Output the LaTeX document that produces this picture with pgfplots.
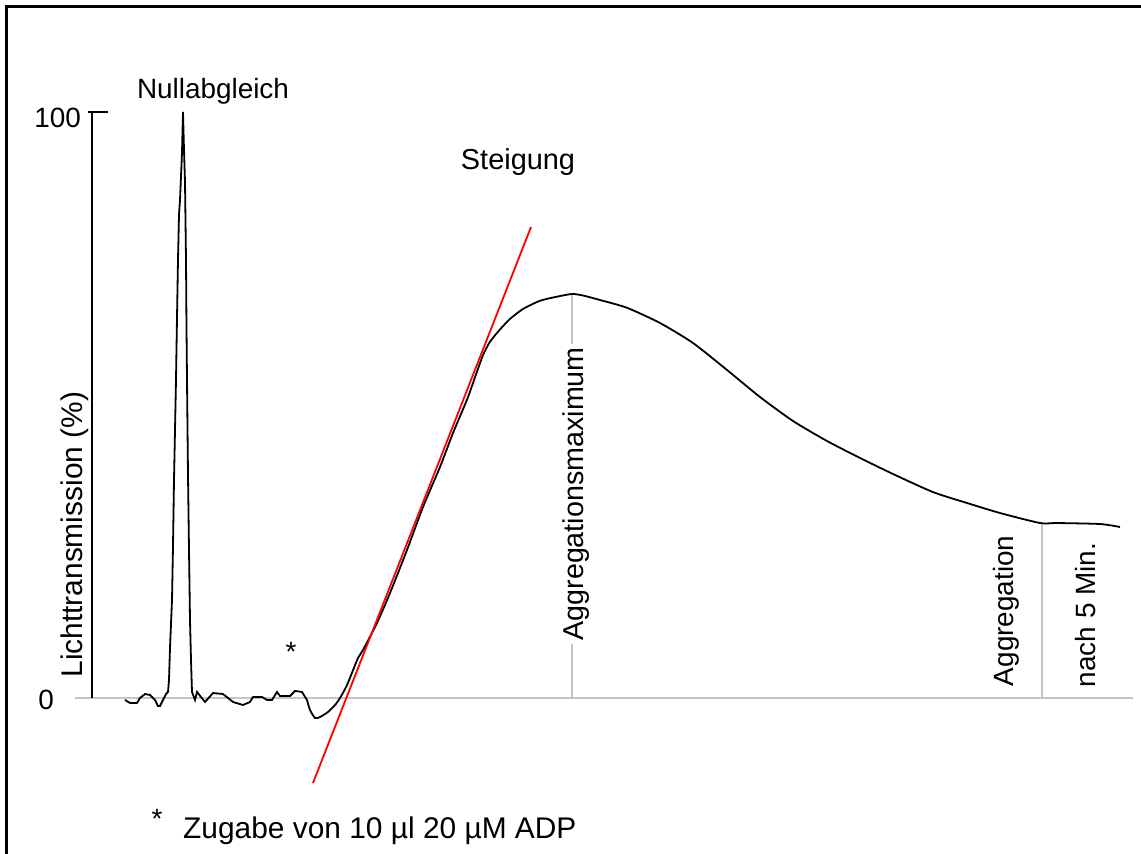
\documentclass[border=0pt]{standalone}
\usepackage{fontspec}
\setmainfont{Liberation Sans}
\usepackage{pgfplots}
\usepackage{pgfplotstable}
\pgfplotsset{compat=1.18}
% x: horizontal position (px units), y: Lichttransmission (%)
\pgfplotstableread{
x y
125 -0.34
130 -0.85
137 -0.85
140 0
145 0.68
150 0.51
155 -0.34
158 -1.37
160 -1.37
163 -0.34
166 0.68
168 1.03
169 3.08
170 8.55
172 16.75
173 26.0
174 37.3
175 45.8
176 54.4
177 65.0
178 74.9
179 82.6
180 85.1
182 93.2
183 100.2
184 93.7
185 88.2
186 74.9
186.5 63.2
187 54.4
188 38.1
189 25.3
190 13.3
191 6.5
192 1.03
195 -0.34
197 1.03
205 -0.68
213 0.85
223 0.68
233 -0.68
243 -1.20
250 -0.68
253 0.17
262 0.17
267 -0.34
272 -0.34
277 1.03
280 0.34
290 0.34
295 1.20
302 1.03
307 -0.34
}\noise
\pgfplotstableread{
x y
307 -0.34
310 -2.05
315 -3.42
320 -3.25
328 -2.39
335 -1.20
340 0
347 2.22
358 6.84
363 8.21
377 12.82
390 17.95
407 25.30
423 32.65
440 39.49
453 45.30
467 51.0
476 55.3
483 58.6
490 60.9
500 63.0
510 64.8
523 66.5
540 67.9
557 68.6
572 69.06
583 68.8
600 68.03
627 66.7
660 64.10
693 60.68
727 56.07
760 51.45
793 47.35
827 43.93
860 41.03
893 38.29
933 35.2
967 33.33
1000 31.62
1040 29.91
1057 29.91
1100 29.74
1120 29.23
}\curve
\pgfplotstableread{
x y
313 -14.53
531 80.51
}\slope
\definecolor{lgray}{RGB}{196,196,196}
\begin{document}
\begin{tikzpicture}[font=\fontsize{28}{34}\selectfont]
\begin{axis}[scale only axis, width=1141bp, height=854bp,
  xmin=0, xmax=1141, ymin=-26.667, ymax=119.316,
  hide axis, clip=false]
% frame
\draw[black, line width=2.4bp] (axis cs:6.5,-26.667) -- (axis cs:6.5,118.2) -- (axis cs:1141,118.2);
% baseline and guide lines
\draw[lgray, line width=1.8bp] (axis cs:75,0) -- (axis cs:1133,0);
\draw[lgray, line width=1.8bp] (axis cs:572,0) -- (axis cs:572,69.06);
\draw[lgray, line width=1.8bp] (axis cs:1042,0) -- (axis cs:1042,29.91);
% y axis
\draw[black, line width=1.8bp] (axis cs:92,0) -- (axis cs:92,100.17);
\draw[black, line width=1.8bp] (axis cs:88,100.17) -- (axis cs:108,100.17);
\node[anchor=base east, inner sep=0pt] at (axis cs:54,-2.0) {0};
\node[anchor=base east, inner sep=0pt] at (axis cs:81,97.6) {100};
\node[rotate=90, inner sep=0pt, font=\fontsize{30}{36}\selectfont] at (axis cs:75,27.9) {Lichttransmission (\%)};
% data
\addplot[black, line width=1.8bp] table[x=x,y=y] {\noise};
\addplot[black, line width=1.8bp, smooth, tension=0.4] table[x=x,y=y] {\curve};
\addplot[red, line width=1.8bp] table[x=x,y=y] {\slope};
% labels
\node[anchor=base, inner sep=0pt] at (axis cs:213,102.4) {Nullabgleich};
\node[anchor=base, inner sep=0pt, font=\fontsize{29}{34}\selectfont] at (axis cs:518,90.3) {Steigung};
\node[anchor=center, inner sep=0pt] at (axis cs:291,7.9) {*};
\node[rotate=90, fill=white, inner sep=3pt, font=\fontsize{28.8}{34}\selectfont] at (axis cs:576,34.9) {Aggregationsmaximum};
\node[rotate=90, inner sep=0pt] at (axis cs:1006,14.9) {Aggregation};
\node[rotate=90, inner sep=0pt] at (axis cs:1086,14.2) {nach 5 Min.};
\node[anchor=center, inner sep=0pt] at (axis cs:157,-20.6) {*};
\node[anchor=base west, inner sep=0pt, font=\fontsize{30}{36}\selectfont] at (axis cs:183,-24.1) {Zugabe von 10 µl 20 µM ADP};
\coordinate (SW) at (rel axis cs:0,0);
\coordinate (NE) at (rel axis cs:1,1);
\end{axis}
\pgfresetboundingbox
\path[use as bounding box] (SW) rectangle (NE);
\end{tikzpicture}
\end{document}
